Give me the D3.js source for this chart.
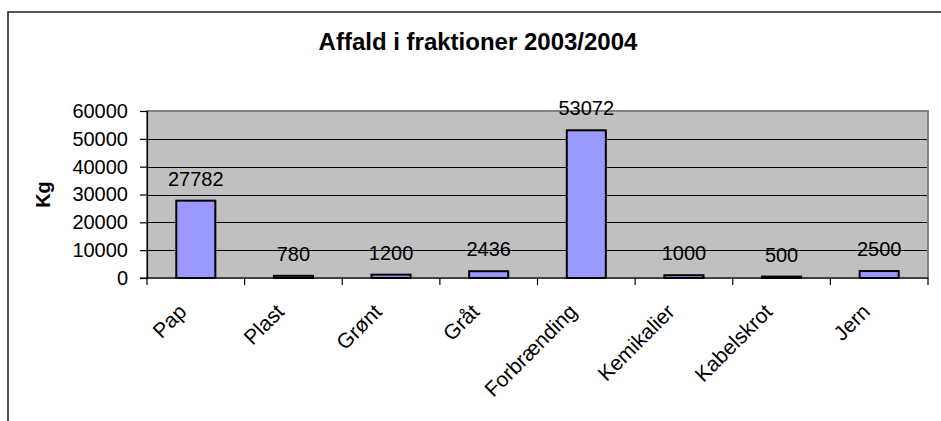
<!DOCTYPE html>
<html>
<head>
<meta charset="utf-8">
<script src="https://cdn.jsdelivr.net/npm/d3@7"></script>
<style>
  html, body { margin: 0; padding: 0; background: #fff; }
  svg { display: block; font-family: "Liberation Sans", Arial, sans-serif; }
</style>
</head>
<body>
<svg id="chart" width="941" height="421"></svg>
<script>
const categories = ["Pap", "Plast", "Grønt", "Gråt", "Forbrænding", "Kemikalier", "Kabelskrot", "Jern"];
const values = [27782, 780, 1200, 2436, 53072, 1000, 500, 2500];
const yTicks = [0, 10000, 20000, 30000, 40000, 50000, 60000];
const title = "Affald i fraktioner 2003/2004";
const yTitle = "Kg";

const svg = d3.select("#chart");
const plot = { left: 147, right: 928, top: 111, bottom: 278 };

// chart area border (cropped at right and bottom)
svg.append("path")
  .attr("d", "M8,421 L8,12 L941,12")
  .attr("fill", "none").attr("stroke", "#222").attr("stroke-width", 1.6);

const x = d3.scaleBand().domain(categories).range([plot.left, plot.right]).paddingInner(0.6).paddingOuter(0.3);
const xb = d3.scaleBand().domain(categories).range([plot.left, plot.right]);
const y = d3.scaleLinear().domain([0, 60000]).range([plot.bottom, plot.top]);

// plot area
svg.append("rect")
  .attr("x", plot.left).attr("y", plot.top)
  .attr("width", plot.right - plot.left).attr("height", plot.bottom - plot.top)
  .attr("fill", "#C0C0C0").attr("stroke", "#808080").attr("stroke-width", 2);

// gridlines
svg.append("g").selectAll("line").data(yTicks.filter(d => d > 0 && d < 60000)).join("line")
  .attr("x1", plot.left).attr("x2", plot.right - 1)
  .attr("y1", d => Math.round(y(d)) + 0.5).attr("y2", d => Math.round(y(d)) + 0.5)
  .attr("stroke", "#000").attr("stroke-width", 1);

// bars
svg.append("g").selectAll("rect").data(values).join("rect")
  .attr("x", (d, i) => x(categories[i]))
  .attr("y", d => y(d))
  .attr("width", x.bandwidth())
  .attr("height", d => plot.bottom - y(d))
  .attr("fill", "#9999FF").attr("stroke", "#000").attr("stroke-width", 2);

// y axis
const yAxis = d3.axisLeft(y).tickValues(yTicks).tickSize(7).tickPadding(12).tickFormat(d3.format("d"));
const gy = svg.append("g").attr("transform", `translate(${plot.left},0)`).call(yAxis);
gy.select(".domain").attr("stroke", "#000").attr("stroke-width", 1.2);
gy.selectAll(".tick line").attr("stroke", "#000").attr("stroke-width", 1.2);
gy.selectAll(".tick text").attr("font-size", 20).attr("fill", "#000")
  .attr("font-family", "Liberation Sans, Arial, sans-serif");

// x axis
const xAxis = d3.axisBottom(xb).tickSize(0).tickFormat("");
const gx = svg.append("g").attr("transform", `translate(0,${plot.bottom})`).call(xAxis);
gx.select(".domain").remove();
svg.append("line").attr("x1", plot.left - 7).attr("x2", plot.right)
  .attr("y1", plot.bottom).attr("y2", plot.bottom).attr("stroke", "#000").attr("stroke-width", 1.2);
svg.append("g").selectAll("line").data(categories.map((c) => xb(c)).concat([plot.right])).join("line")
  .attr("x1", d => d).attr("x2", d => d)
  .attr("y1", plot.bottom).attr("y2", plot.bottom + 7)
  .attr("stroke", "#000").attr("stroke-width", 1.2);

// category labels
svg.append("g").selectAll("text").data(categories).join("text")
  .attr("transform", d => `translate(${xb(d) + xb.bandwidth() / 2 - 8},${plot.bottom + 35}) rotate(-45)`)
  .attr("text-anchor", "end")
  .attr("font-size", 21).attr("fill", "#000")
  .text(d => d);

// data labels
svg.append("g").selectAll("text").data(values).join("text")
  .attr("x", (d, i) => x(categories[i]) + x.bandwidth() / 2)
  .attr("y", d => y(d) - 15)
  .attr("text-anchor", "middle")
  .attr("font-size", 20).attr("fill", "#000")
  .text(d => d);

// title
svg.append("text").attr("x", 478).attr("y", 50)
  .attr("text-anchor", "middle").attr("font-size", 24).attr("font-weight", "bold")
  .text(title);

// y title
svg.append("text").attr("transform", `translate(50,${(plot.top + plot.bottom) / 2}) rotate(-90)`)
  .attr("text-anchor", "middle").attr("font-size", 20).attr("font-weight", "bold")
  .text(yTitle);
</script>
</body>
</html>
